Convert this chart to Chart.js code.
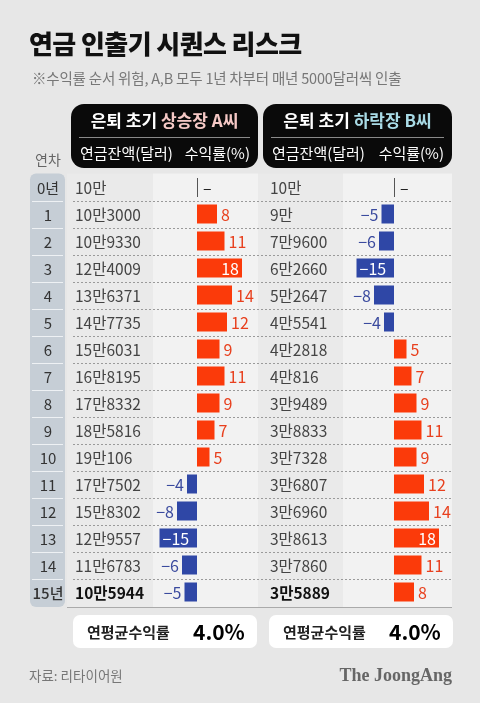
<!DOCTYPE html>
<html>
<head>
<meta charset="utf-8">
<script src="https://cdn.jsdelivr.net/npm/chart.js@4"></script>
<style>
  html, body { margin: 0; padding: 0; background: #e7e7e7; }
  canvas { display: block; }
</style>
</head>
<body>
<canvas id="seqChart" width="480" height="703"></canvas>
<script>
  const years = ['0년', '1', '2', '3', '4', '5', '6', '7', '8', '9', '10', '11', '12', '13', '14', '15년'];

  // 은퇴 초기 상승장 A씨
  const balanceA = ['10만', '10만3000', '10만9330', '12만4009', '13만6371', '14만7735', '15만6031', '16만8195',
    '17만8332', '18만5816', '19만106', '17만7502', '15만8302', '12만9557', '11만6783', '10만5944'];
  const returnsA = [null, 8, 11, 18, 14, 12, 9, 11, 9, 7, 5, -4, -8, -15, -6, -5];

  // 은퇴 초기 하락장 B씨
  const balanceB = ['10만', '9만', '7만9600', '6만2660', '5만2647', '4만5541', '4만2818', '4만816',
    '3만9489', '3만8833', '3만7328', '3만6807', '3만6960', '3만8613', '3만7860', '3만5889'];
  const returnsB = [null, -5, -6, -15, -8, -4, 5, 7, 9, 11, 9, 12, 14, 18, 11, 8];

  const avgReturn = ['4.0%', '4.0%'];

  const RED = '#fb3a0a';
  const BLUE = '#2f47a6';
  const FONT = "'Noto Sans CJK KR', sans-serif";

  function barColor(ctx) {
    const v = ctx.raw;
    return v < 0 ? BLUE : RED;
  }

  const tablePlugin = {
    id: 'table',
    beforeDraw(chart) {
      const c = chart.ctx;
      const y = chart.scales.y;
      const top = y.getPixelForValue(0) - 13.5;
      const bottom = y.getPixelForValue(years.length - 1) + 13.5 + 1.5;
      c.save();
      c.fillStyle = '#e7e7e7';
      c.fillRect(0, 0, chart.width, chart.height);

      // title + subtitle
      c.fillStyle = '#111';
      c.font = '900 26px ' + FONT;
      c.textBaseline = 'middle';
      c.letterSpacing = '-0.6px';
      c.fillText('연금 인출기 시퀀스 리스크', 29, 44);
      c.letterSpacing = '-0.2px';
      c.fillStyle = '#777';
      c.font = '400 14.5px ' + FONT;
      c.fillText('※수익률 순서 위험, A,B 모두 1년 차부터 매년 5000달러씩 인출', 32, 78);
      c.letterSpacing = '0px';

      // header boxes
      const heads = [
        { x: 71, w: 187, pre: '은퇴 초기 ', key: '상승장 A씨', col: '#f6c9c6' },
        { x: 263, w: 189, pre: '은퇴 초기 ', key: '하락장 B씨', col: '#a9dbe6' }
      ];
      heads.forEach(h => {
        c.fillStyle = '#0a0a0a';
        c.beginPath();
        c.roundRect(h.x, 104, h.w, 64, 13);
        c.fill();
        c.font = '700 17px ' + FONT;
        const w1 = c.measureText(h.pre).width;
        const w2 = c.measureText(h.key).width;
        let sx = h.x + h.w / 2 - (w1 + w2) / 2;
        c.textAlign = 'left';
        c.fillStyle = '#fff';
        c.fillText(h.pre, sx, 121);
        c.fillStyle = h.col;
        c.fillText(h.key, sx + w1, 121);
        c.strokeStyle = '#8a8a8a';
        c.lineWidth = 1;
        c.beginPath();
        c.moveTo(h.x + 8, 137.5);
        c.lineTo(h.x + h.w - 8, 137.5);
        c.stroke();
        c.fillStyle = '#fff';
        c.font = '400 15px ' + FONT;
        c.fillText('연금잔액(달러)', h.x + 9, 153);
        c.textAlign = 'right';
        c.fillText('수익률(%)', h.x + h.w - 8, 153);
      });
      c.textAlign = 'left';
      c.fillStyle = '#666';
      c.font = '400 14px ' + FONT;
      c.fillText('연차', 35, 160);

      // panels
      c.fillStyle = '#eaeaea';
      c.fillRect(67, top, 86, bottom - top);
      c.fillRect(258, top, 85, bottom - top);
      c.fillStyle = '#f2f2f2';
      c.fillRect(153, top, 105, bottom - top);
      c.fillRect(343, top, 109, bottom - top);

      // year column
      c.fillStyle = '#c6ced6';
      c.beginPath();
      c.roundRect(30, top, 35, bottom - top, 6);
      c.fill();

      // row separators
      for (let i = 1; i < years.length; i++) {
        const ry = Math.round(y.getPixelForValue(i) - 13.5) + 0.5;
        c.strokeStyle = '#eef1f4';
        c.setLineDash([]);
        c.beginPath();
        c.moveTo(32, ry);
        c.lineTo(63, ry);
        c.stroke();
        c.strokeStyle = '#9a9a9a';
        c.setLineDash([2, 2]);
        c.beginPath();
        c.moveTo(73, ry);
        c.lineTo(452, ry);
        c.stroke();
      }
      c.setLineDash([]);
      c.strokeStyle = '#aaa';
      c.beginPath();
      c.moveTo(67, bottom + 0.5);
      c.lineTo(452, bottom + 0.5);
      c.stroke();

      // year labels + balances
      years.forEach((yr, i) => {
        const cy = y.getPixelForValue(i) + 1;
        const last = i === years.length - 1;
        c.textAlign = 'center';
        c.fillStyle = '#333';
        c.font = (last ? '500 ' : '400 ') + '15px ' + FONT;
        c.fillText(yr, 48, cy);
        c.textAlign = 'left';
        c.font = (last ? '700 ' : '400 ') + '15.5px ' + FONT;
        c.fillStyle = last ? '#111' : '#444';
        c.fillText(balanceA[i], 75, cy);
        c.fillText(balanceB[i], 270, cy);
      });

      // average boxes
      [[73, 184], [269, 184]].forEach(([bx, bw], k) => {
        c.fillStyle = '#fff';
        c.beginPath();
        c.roundRect(bx, 615, bw, 33, 7);
        c.fill();
        c.fillStyle = '#222';
        c.textAlign = 'left';
        c.font = '700 15px ' + FONT;
        c.fillText('연평균수익률', bx + 14, 632);
        c.fillStyle = '#000';
        c.font = '700 21px ' + FONT;
        c.fillText(avgReturn[k], bx + 120, 632);
      });

      // footer
      c.fillStyle = '#777';
      c.font = '400 13.5px ' + FONT;
      c.fillText('자료: 리타이어원', 29, 676);
      c.fillStyle = '#666';
      c.textAlign = 'right';
      c.font = "700 18px 'Liberation Serif', serif";
      c.fillText('The JoongAng', 452, 676);
      c.restore();
    },
    afterDatasetsDraw(chart) {
      const c = chart.ctx;
      const y = chart.scales.y;
      c.save();
      c.textBaseline = 'middle';
      c.font = '400 16px ' + FONT;
      [[returnsA, chart.scales.xA], [returnsB, chart.scales.xB]].forEach(([vals, sc]) => {
        const zero = sc.getPixelForValue(0);
        vals.forEach((v, i) => {
          const cy = y.getPixelForValue(i) + 1;
          if (v === null) {
            c.strokeStyle = '#555';
            c.lineWidth = 1;
            c.beginPath();
            c.moveTo(Math.round(zero) + 0.5, cy - 10);
            c.lineTo(Math.round(zero) + 0.5, cy + 9);
            c.stroke();
            c.fillStyle = '#222';
            c.textAlign = 'left';
            c.fillText('–', zero + 6, cy);
            return;
          }
          const end = sc.getPixelForValue(v);
          const txt = v < 0 ? '−' + Math.abs(v) : String(v);
          if (Math.abs(v) >= 15) {
            c.fillStyle = '#fff';
            c.textAlign = v < 0 ? 'left' : 'right';
            c.fillText(txt, v < 0 ? end + 3 : end - 3, cy);
          } else {
            c.fillStyle = v < 0 ? '#3a4a9e' : '#e8401e';
            c.textAlign = v < 0 ? 'right' : 'left';
            c.fillText(txt, v < 0 ? end - 3 : end + 4, cy);
          }
        });
      });
      c.restore();
    }
  };

  const configSeq = {
    type: 'bar',
    data: {
      labels: years,
      datasets: [{
        label: '상승장 A씨',
        data: returnsA,
        xAxisID: 'xA',
        backgroundColor: barColor
      }, {
        label: '하락장 B씨',
        data: returnsB,
        xAxisID: 'xB',
        backgroundColor: barColor
      }]
    },
    options: {
      indexAxis: 'y',
      responsive: false,
      animation: false,
      devicePixelRatio: 1,
      layout: { padding: { top: 173.5, bottom: 97.5, left: 0, right: 0 } },
      datasets: {
        bar: { grouped: false, barPercentage: 0.7, categoryPercentage: 1 }
      },
      scales: {
        y: { display: false },
        // zero at x=197, 2.5px per %p
        xA: { type: 'linear', display: false, min: -78.8, max: 113.2 },
        // zero at x=394, 2.5px per %p
        xB: { type: 'linear', display: false, min: -157.6, max: 34.4 }
      },
      plugins: {
        legend: { display: false },
        tooltip: { enabled: false }
      }
    },
    plugins: [tablePlugin]
  };

  const seqChart = new Chart(document.getElementById('seqChart'), configSeq);
</script>
</body>
</html>
